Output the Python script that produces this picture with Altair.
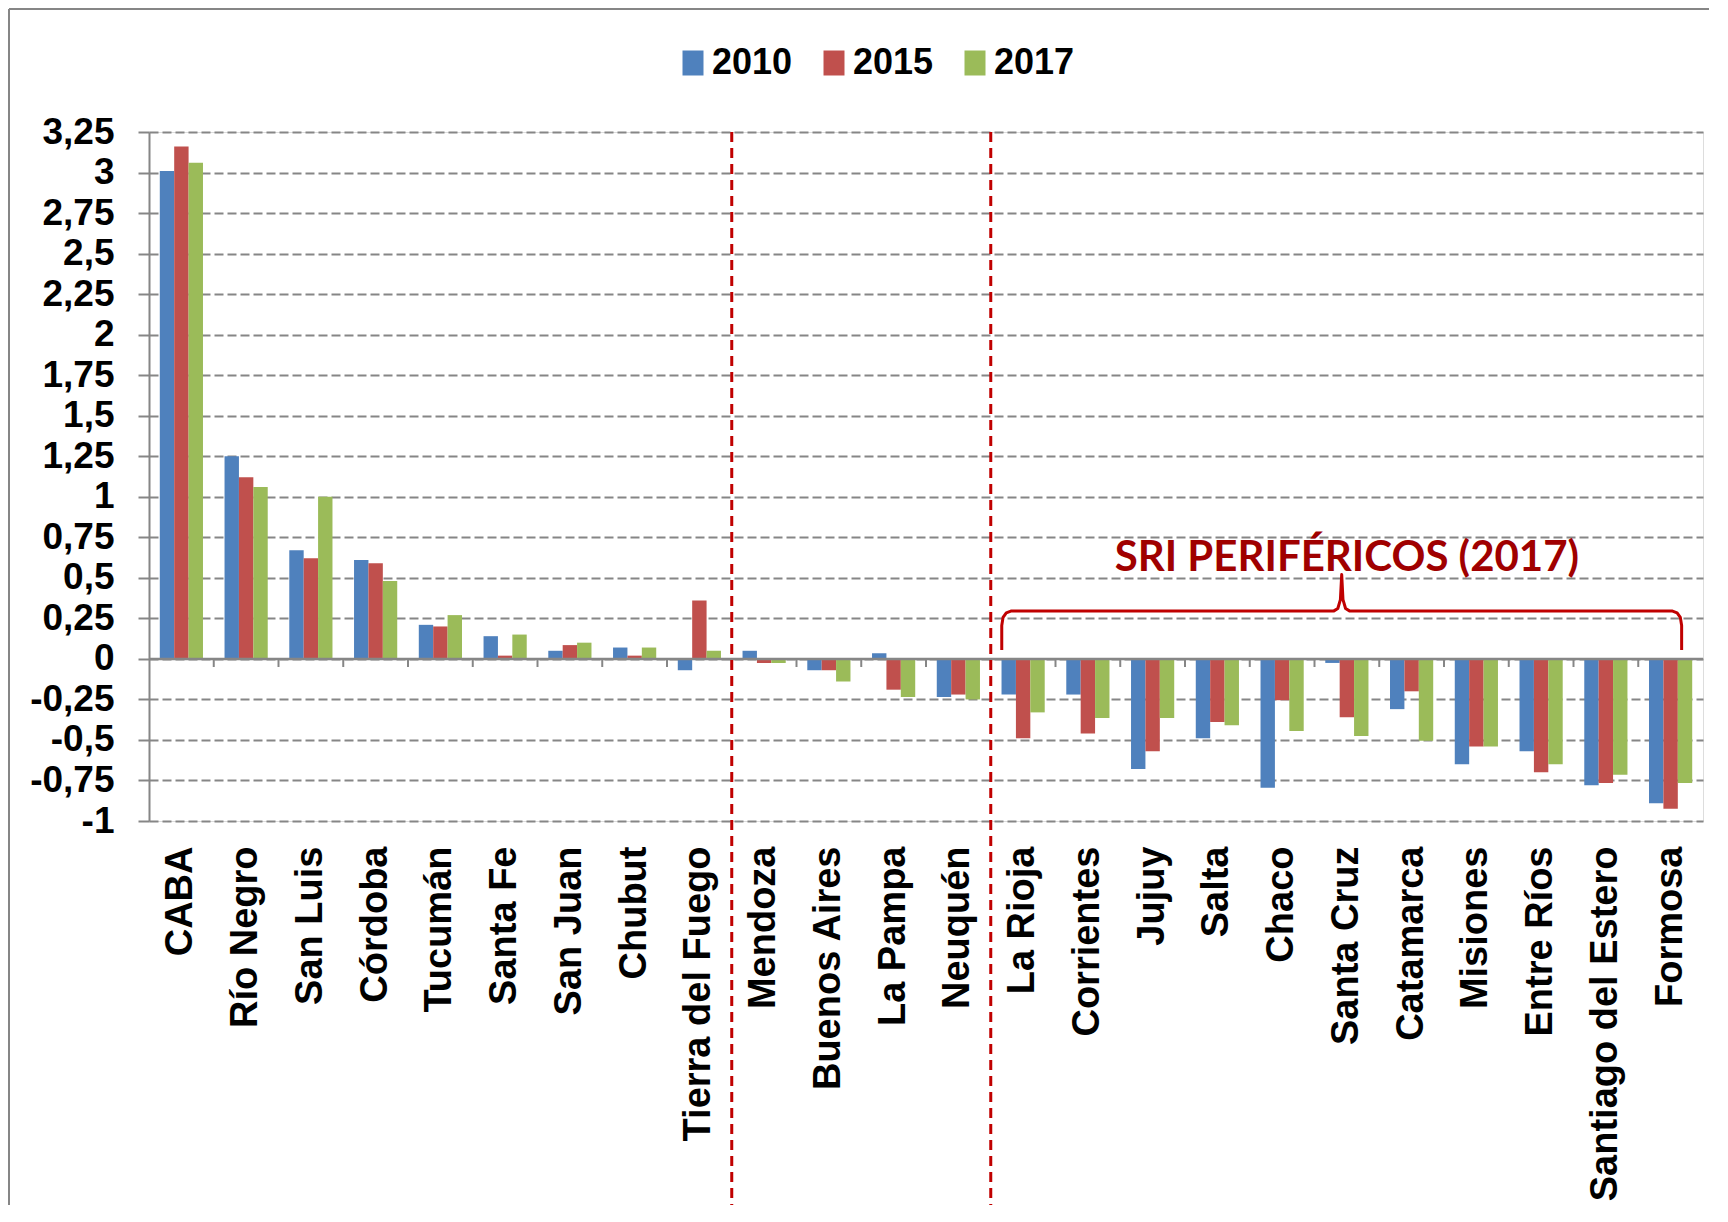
import altair as alt
import pandas as pd

provinces = ["CABA", "Río Negro", "San Luis", "Córdoba", "Tucumán", "Santa Fe", "San Juan",
             "Chubut", "Tierra del Fuego", "Mendoza", "Buenos Aires", "La Pampa", "Neuquén",
             "La Rioja", "Corrientes", "Jujuy", "Salta", "Chaco", "Santa Cruz", "Catamarca",
             "Misiones", "Entre Ríos", "Santiago del Estero", "Formosa"]
years = ["2010", "2015", "2017"]
v2010 = [3.01, 1.25, 0.67, 0.61, 0.21, 0.14, 0.05, 0.07, -0.07, 0.05, -0.07, 0.035, -0.235,
         -0.22, -0.22, -0.68, -0.49, -0.795, -0.025, -0.31, -0.65, -0.57, -0.78, -0.89]
v2015 = [3.16, 1.12, 0.62, 0.59, 0.20, 0.02, 0.085, 0.02, 0.36, -0.025, -0.07, -0.19, -0.22,
         -0.49, -0.46, -0.57, -0.39, -0.255, -0.36, -0.20, -0.54, -0.70, -0.765, -0.925]
v2017 = [3.06, 1.06, 1.00, 0.48, 0.27, 0.15, 0.10, 0.07, 0.05, -0.025, -0.14, -0.235, -0.25,
         -0.33, -0.365, -0.365, -0.41, -0.445, -0.475, -0.505, -0.54, -0.65, -0.715, -0.765]
colors = ["#4F81BD", "#C0504D", "#9BBB59"]
y_ticks = [-1, -0.75, -0.5, -0.25, 0, 0.25, 0.5, 0.75, 1, 1.25, 1.5, 1.75, 2, 2.25, 2.5,
           2.75, 3, 3.25]
separators = [9, 13]          # group boundaries (category index)
annotation = "SRI PERIFÉRICOS (2017)"
brace_start, brace_end = 13.17, 23.67   # span of the brace, in category units
brace_level, brace_foot, brace_tip = 0.296, 0.055, 0.52

W, H = 1554, 689
N = len(provinces)
FONT = "Liberation Sans, Arial, sans-serif"
GRAY = "#868686"

rows = []
for yr, vals in zip(years, [v2010, v2015, v2017]):
    for p, v in zip(provinces, vals):
        rows.append({"province": p, "year": yr, "value": v})
df = pd.DataFrame(rows)

y_scale = alt.Scale(domain=[-1, 3.25], nice=False, zero=False)
q_scale = alt.Scale(domain=[0, N], nice=False, zero=False)
y_axis = alt.Axis(values=y_ticks, labelExpr="replace(toString(datum.value), '.', ',')",
                  title=None, grid=True, gridDash=[9, 4], gridColor=GRAY, gridWidth=2,
                  domainColor=GRAY, domainWidth=2, tickColor=GRAY, tickWidth=2, tickSize=11,
                  labelFont=FONT, labelFontSize=37, labelFontWeight="bold", labelColor="black",
                  labelPadding=24)

bars = alt.Chart(df).mark_bar().encode(
    x=alt.X("province:N", sort=provinces,
            scale=alt.Scale(paddingInner=0.333, paddingOuter=0.1667),
            axis=alt.Axis(title=None, labelAngle=-90, labelFont=FONT, labelFontSize=38,
                          labelFontWeight="bold", labelColor="black", labelPadding=25,
                          ticks=False, domain=False, grid=False, labelLimit=500)),
    xOffset=alt.XOffset("year:N", sort=years),
    y=alt.Y("value:Q", scale=y_scale, axis=y_axis),
    color=alt.Color("year:N", scale=alt.Scale(domain=years, range=colors),
                    legend=alt.Legend(title=None, orient="none", legendX=526, legendY=-87,
                                      direction="horizontal", labelFont=FONT,
                                      labelFontSize=36, labelFontWeight="bold",
                                      labelColor="black",
                                      symbolType="M-0.84,-1H0.84V1H-0.84Z",
                                      symbolSize=625, symbolStrokeWidth=0,
                                      labelOffset=1, columnPadding=23, padding=0)),
)

zero_df = pd.DataFrame({"value": [0]})
zero_line = alt.Chart(zero_df).mark_rule(color=GRAY, strokeWidth=2.5).encode(
    y=alt.Y("value:Q", scale=y_scale, axis=y_axis))

tick_df = pd.DataFrame({"q": list(range(1, N)), "value": [0] * (N - 1),
                        "value2": [-0.05] * (N - 1)})
x_ticks = alt.Chart(tick_df).mark_rule(color=GRAY, strokeWidth=2).encode(
    x=alt.X("q:Q", scale=q_scale, axis=None),
    y=alt.Y("value:Q", scale=y_scale, axis=y_axis),
    y2="value2:Q")

sep_df = pd.DataFrame({"q": separators})
sep_lines = alt.Chart(sep_df).mark_rule(color="#C00000", strokeWidth=3, strokeDash=[10, 6],
                                        clip=False).encode(
    x=alt.X("q:Q", scale=q_scale, axis=None),
    y=alt.value(0), y2=alt.value(1073))

# brace annotation geometry (category units / data units)
mid = (brace_start + brace_end) / 2
bx = [brace_start, brace_start, brace_start + 0.02, brace_start + 0.07, brace_start + 0.15,
      mid - 0.12, mid - 0.06, mid - 0.02, mid,
      mid + 0.02, mid + 0.06, mid + 0.12,
      brace_end - 0.15, brace_end - 0.07, brace_end - 0.02, brace_end, brace_end]
by = [brace_foot, brace_level - 0.09, brace_level - 0.04, brace_level - 0.012, brace_level,
      brace_level, brace_level + 0.015, brace_level + 0.07, brace_tip,
      brace_level + 0.07, brace_level + 0.015, brace_level,
      brace_level, brace_level - 0.012, brace_level - 0.04, brace_level - 0.09, brace_foot]
brace_df = pd.DataFrame({"q": bx, "value": by, "i": list(range(len(bx)))})
brace = alt.Chart(brace_df).mark_line(color="#C00000", strokeWidth=3,
                                      strokeJoin="round").encode(
    x=alt.X("q:Q", scale=q_scale, axis=None),
    y=alt.Y("value:Q", scale=y_scale, axis=y_axis),
    order="i:Q")

text_df = pd.DataFrame({"q": [18.5], "value": [0.54], "t": [annotation]})
label = alt.Chart(text_df).mark_text(font="Lato, Open Sans, sans-serif", fontSize=42,
                                     fontWeight="bold", color="#A00000", align="center",
                                     baseline="alphabetic").encode(
    x=alt.X("q:Q", scale=q_scale, axis=None),
    y=alt.Y("value:Q", scale=y_scale, axis=y_axis),
    text="t:N")

one = pd.DataFrame({"a": [0]})
border_top = alt.Chart(one).mark_rule(color=GRAY, strokeWidth=2, clip=False).encode(
    x=alt.value(-140), x2=alt.value(W + 6), y=alt.value(-123))
border_left = alt.Chart(one).mark_rule(color=GRAY, strokeWidth=2, clip=False).encode(
    x=alt.value(-140), y=alt.value(-123), y2=alt.value(1073))

chart = alt.layer(bars, zero_line, x_ticks, sep_lines, brace, label, border_top,
                  border_left).resolve_scale(x="independent").properties(
    width=W, height=H, padding=0
).configure_view(stroke=GRAY, strokeWidth=2).configure(background="white")

chart.save("out.html", embed_options={"renderer": "svg", "actions": False})
